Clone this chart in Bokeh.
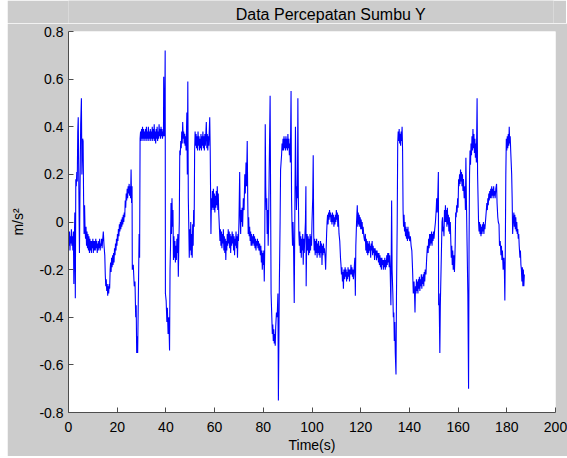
from bokeh.plotting import figure
from bokeh.embed import file_html
from bokeh.resources import INLINE
from bokeh.models import FixedTicker, Spacer
from bokeh.layouts import row, column
from bokeh.core.properties import value

# (time [s], acceleration [m/s^2])
trace = [
(0.0,-0.05),(0.2,-0.1),(0.4,-0.04),(0.6,-0.12),(0.8,-0.06),(1.0,-0.09),(1.2,-0.03),(1.4,-0.1),(1.6,-0.06),(1.8,-0.12),
(2.0,-0.04),(2.2,-0.26),(2.4,-0.08),(2.6,0.04),(2.8,-0.32),(3.0,0.18),(3.2,0.15),(3.4,0.21),(3.6,0.17),(3.8,0.38),
(4.0,0.44),(4.2,0.2),(4.5,-0.13),(4.7,0.1),(5.0,0.41),(5.3,0.52),(5.5,0.2),(5.8,0.35),(6.0,0.34),(6.2,0.1),
(6.4,-0.05),(6.6,0.07),(6.8,-0.03),(7.0,-0.07),(7.2,-0.02),(7.4,-0.1),(7.6,-0.04),(7.8,-0.11),(8.0,-0.05),(8.2,-0.12),
(8.4,-0.06),(8.6,-0.13),(8.8,-0.07),(9.0,-0.12),(9.2,-0.08),(9.4,-0.13),(9.6,-0.08),(9.8,-0.11),(10.0,-0.07),(10.2,-0.13),
(10.4,-0.08),(10.6,-0.12),(10.8,-0.08),(11.0,-0.12),(11.2,-0.07),(11.4,-0.11),(11.6,-0.08),(11.8,-0.13),(12.0,-0.09),(12.2,-0.12),
(12.4,-0.08),(12.6,-0.11),(12.8,-0.07),(13.0,-0.12),(13.2,-0.09),(13.4,-0.1),(13.6,-0.07),(13.8,-0.11),(14.0,-0.08),(14.3,-0.04),
(14.6,-0.1),(14.9,-0.14),(15.1,-0.22),(15.3,-0.27),(15.5,-0.24),(15.7,-0.29),(15.9,-0.26),(16.1,-0.31),(16.3,-0.27),(16.5,-0.3),
(16.7,-0.26),(16.9,-0.28),(17.1,-0.2),(17.3,-0.17),(17.5,-0.21),(17.7,-0.15),(17.9,-0.19),(18.1,-0.14),(18.3,-0.18),(18.5,-0.13),
(18.7,-0.17),(18.9,-0.11),(19.1,-0.14),(19.3,-0.09),(19.5,-0.12),(19.7,-0.07),(19.9,-0.1),(20.1,-0.05),(20.3,-0.08),(20.5,-0.03),
(20.7,-0.06),(20.9,-0.01),(21.1,-0.04),(21.3,0.0),(21.5,-0.03),(21.7,0.01),(21.9,-0.02),(22.1,0.02),(22.3,-0.01),(22.5,0.03),
(22.7,0.0),(22.9,0.04),(23.1,0.02),(23.3,0.09),(23.5,0.06),(23.7,0.12),(23.9,0.09),(24.1,0.14),(24.3,0.1),(24.5,0.15),
(24.7,0.12),(24.9,0.16),(25.1,0.11),(25.3,0.15),(25.5,0.1),(25.7,0.22),(25.9,0.08),(26.1,0.15),(26.2,-0.2),(26.6,-0.18),
(27.0,-0.27),(27.3,-0.25),(27.6,-0.4),(27.8,-0.35),(28.0,-0.55),(28.2,-0.48),(28.4,-0.55),(28.7,-0.3),(29.0,-0.05),(29.2,-0.15),
(29.4,0.35),(29.6,0.38),(29.8,0.34),(30.0,0.39),(30.2,0.35),(30.4,0.4),(30.6,0.34),(30.8,0.39),(31.0,0.35),(31.2,0.38),
(31.4,0.34),(31.6,0.39),(31.8,0.35),(32.0,0.4),(32.2,0.34),(32.4,0.38),(32.6,0.35),(32.8,0.4),(33.0,0.34),(33.2,0.38),
(33.4,0.35),(33.6,0.39),(33.8,0.34),(34.0,0.38),(34.2,0.35),(34.4,0.4),(34.6,0.34),(34.8,0.39),(35.0,0.35),(35.2,0.41),
(35.4,0.34),(35.6,0.38),(35.8,0.33),(36.0,0.39),(36.2,0.35),(36.4,0.4),(36.6,0.34),(36.8,0.38),(37.0,0.35),(37.2,0.41),
(37.4,0.36),(37.6,0.39),(37.8,0.35),(38.0,0.4),(38.2,0.36),(38.4,0.39),(38.6,0.35),(38.8,0.38),(39.0,0.36),(39.1,0.61),
(39.3,0.36),(39.5,0.4),(39.7,0.72),(39.8,-0.3),(40.1,-0.33),(40.4,-0.42),(40.6,-0.36),(40.9,-0.47),(41.2,-0.4),(41.5,-0.54),
(41.7,-0.2),(41.9,-0.1),(42.1,0.08),(42.3,-0.05),(42.5,0.1),(42.7,-0.02),(42.9,0.05),(43.1,-0.16),(43.3,-0.06),(43.5,-0.15),
(43.7,-0.08),(43.9,-0.17),(44.1,-0.1),(44.3,-0.16),(44.5,-0.07),(44.7,-0.13),(44.9,-0.05),(45.1,-0.23),(45.3,-0.1),(45.5,0.0),
(45.7,0.3),(45.9,0.28),(46.1,0.34),(46.3,0.31),(46.5,0.38),(46.7,0.33),(46.9,0.42),(47.1,0.35),(47.3,0.38),(47.5,0.33),
(47.7,0.37),(47.9,0.32),(48.1,0.36),(48.3,0.3),(48.6,0.46),(48.8,0.2),(49.0,0.59),(49.2,0.1),(49.4,-0.02),(49.6,-0.15),
(49.8,-0.03),(50.0,-0.12),(50.2,0.0),(50.4,-0.14),(50.6,-0.05),(50.8,-0.15),(51.0,-0.01),(51.2,-0.1),(51.4,0.05),(51.6,-0.02),
(51.8,0.3),(52.0,0.38),(52.2,0.32),(52.4,0.37),(52.6,0.31),(52.8,0.36),(53.0,0.3),(53.2,0.38),(53.4,0.32),(53.6,0.36),
(53.8,0.3),(54.0,0.35),(54.2,0.31),(54.4,0.37),(54.6,0.3),(54.8,0.36),(55.0,0.32),(55.2,0.38),(55.4,0.31),(55.6,0.36),
(55.8,0.3),(56.0,0.37),(56.2,0.32),(56.6,0.42),(56.8,0.31),(57.0,0.37),(57.2,0.3),(57.4,0.36),(57.6,0.32),(58.0,0.44),
(58.2,0.3),(58.5,-0.05),(58.7,0.1),(58.9,0.05),(59.1,0.13),(59.3,0.06),(59.5,0.14),(59.7,0.05),(59.9,0.12),(60.1,0.04),
(60.3,0.11),(60.5,0.06),(60.7,0.13),(60.9,0.07),(61.1,0.15),(61.3,0.05),(61.5,0.12),(61.7,0.04),(62.0,-0.03),(62.2,-0.08),
(62.4,-0.03),(62.6,-0.1),(62.8,-0.04),(63.0,-0.11),(63.2,-0.05),(63.4,-0.09),(63.6,-0.03),(63.8,-0.12),(64.0,-0.06),(64.2,-0.13),
(64.4,-0.07),(64.6,-0.16),(64.8,-0.08),(65.0,-0.12),(65.2,-0.05),(65.4,-0.1),(65.6,-0.03),(65.8,-0.09),(66.0,-0.04),(66.2,-0.11),
(66.4,-0.05),(66.6,-0.13),(66.8,-0.06),(67.0,-0.1),(67.2,-0.04),(67.4,-0.09),(67.6,-0.05),(67.8,-0.12),(68.0,-0.06),(68.2,-0.14),
(68.4,-0.07),(68.6,-0.1),(68.8,-0.04),(69.0,-0.11),(69.2,-0.06),(69.4,-0.15),(69.6,-0.05),(69.8,-0.08),(70.0,0.0),(70.3,0.21),
(70.5,0.02),(70.7,-0.05),(70.9,0.05),(71.1,0.0),(71.3,0.06),(71.5,-0.02),(71.8,0.1),(72.1,0.05),(72.4,0.2),(72.6,0.12),
(72.9,0.25),(73.1,0.15),(73.4,0.34),(73.6,0.1),(73.8,-0.05),(74.0,0.02),(74.2,-0.06),(74.4,-0.02),(74.6,-0.08),(74.8,-0.04),
(75.0,-0.1),(75.2,-0.05),(75.4,-0.1),(75.6,-0.06),(75.8,-0.09),(76.0,-0.05),(76.2,-0.1),(76.4,-0.06),(76.6,-0.11),(76.8,-0.07),
(77.0,-0.12),(77.2,-0.08),(77.4,-0.1),(77.6,-0.07),(77.8,-0.11),(78.0,-0.08),(78.2,-0.12),(78.5,-0.09),(78.8,-0.14),(79.0,-0.1),
(79.2,-0.17),(79.4,-0.12),(79.6,-0.2),(79.8,-0.13),(80.0,-0.18),(80.2,-0.12),(80.4,-0.25),(80.6,-0.1),(80.8,0.41),(81.0,0.15),
(81.2,0.05),(81.4,0.1),(81.6,-0.05),(81.8,0.05),(82.0,-0.1),(82.2,0.0),(82.4,0.2),(82.8,0.53),(83.0,0.1),(83.2,-0.3),
(83.5,-0.4),(83.7,-0.47),(83.9,-0.43),(84.1,-0.5),(84.3,-0.45),(84.5,-0.51),(84.7,-0.47),(84.9,-0.52),(85.1,-0.44),(85.4,-0.38),
(85.7,-0.4),(86.0,-0.3),(86.2,-0.75),(86.4,-0.5),(86.6,-0.25),(86.9,0.0),(87.1,0.22),(87.3,0.25),(87.5,0.28),(87.7,0.33),
(87.9,0.3),(88.1,0.35),(88.3,0.3),(88.5,0.36),(88.7,0.31),(88.9,0.35),(89.1,0.3),(89.3,0.36),(89.5,0.31),(89.7,0.35),
(89.9,0.3),(90.1,0.37),(90.3,0.31),(90.5,0.35),(90.7,0.28),(90.9,0.33),(91.1,0.25),(91.4,0.55),(91.6,0.1),(91.8,-0.02),
(92.0,-0.1),(92.2,0.0),(92.4,-0.08),(92.7,-0.34),(92.9,-0.05),(93.2,0.4),(93.4,0.2),(93.6,0.05),(93.8,0.15),(94.0,0.1),
(94.2,0.52),(94.4,0.1),(94.6,-0.05),(94.8,-0.1),(95.0,-0.04),(95.2,-0.13),(95.4,-0.06),(95.6,-0.15),(95.8,-0.07),(96.0,-0.12),
(96.2,-0.05),(96.4,-0.18),(96.6,-0.07),(96.8,-0.13),(97.0,-0.08),(97.3,0.0),(97.5,0.15),(97.6,-0.27),(97.8,-0.1),(98.0,-0.05),
(98.2,-0.12),(98.4,-0.06),(98.6,-0.14),(98.8,-0.07),(99.0,-0.13),(99.2,-0.05),(99.4,-0.12),(99.6,-0.06),(99.8,-0.1),(100.0,0.0),
(100.3,0.1),(100.5,0.28),(100.7,-0.05),(100.9,-0.12),(101.1,-0.07),(101.3,-0.14),(101.5,-0.08),(101.7,-0.13),(101.9,-0.07),(102.1,-0.15),
(102.3,-0.09),(102.5,-0.13),(102.7,-0.08),(102.9,-0.14),(103.1,-0.1),(103.3,-0.15),(103.5,-0.08),(103.7,-0.13),(103.9,-0.09),(104.1,-0.18),
(104.3,-0.1),(104.5,-0.14),(104.7,-0.09),(104.9,-0.13),(105.1,-0.11),(105.4,-0.15),(105.6,-0.2),(105.8,-0.12),(106.0,-0.05),(106.2,0.0),
(106.4,0.03),(106.6,-0.01),(106.8,0.04),(107.0,0.01),(107.2,0.05),(107.4,0.02),(107.6,0.04),(107.8,0.0),(108.0,0.03),(108.2,-0.01),
(108.4,0.04),(108.6,0.0),(108.8,0.03),(109.0,-0.02),(109.2,0.02),(109.4,-0.01),(109.6,0.03),(109.8,0.0),(110.0,0.05),(110.2,0.01),
(110.4,0.04),(110.6,-0.02),(110.8,0.03),(111.1,-0.05),(111.4,-0.08),(111.7,-0.15),(111.9,-0.18),(112.1,-0.22),(112.3,-0.19),(112.5,-0.25),
(112.7,-0.21),(112.9,-0.28),(113.1,-0.2),(113.4,-0.24),(113.6,-0.19),(113.8,-0.23),(114.0,-0.2),(114.2,-0.25),(114.4,-0.21),(114.6,-0.24),
(114.8,-0.19),(115.0,-0.23),(115.2,-0.2),(115.4,-0.25),(115.6,-0.2),(115.8,-0.22),(116.0,-0.18),(116.2,-0.22),(116.4,-0.19),(116.6,-0.23),
(116.8,-0.2),(117.0,-0.24),(117.3,-0.2),(117.6,-0.15),(117.8,-0.31),(118.0,-0.1),(118.3,0.0),(118.6,0.07),(118.8,-0.02),(119.0,0.04),
(119.2,-0.01),(119.4,0.03),(119.6,-0.02),(119.8,0.02),(120.0,-0.03),(120.2,0.01),(120.4,-0.03),(120.6,0.0),(120.8,-0.05),(121.0,-0.02),
(121.3,-0.06),(121.6,-0.08),(121.9,-0.05),(122.1,-0.12),(122.3,-0.07),(122.5,-0.13),(122.7,-0.08),(122.9,-0.14),(123.1,-0.09),(123.3,-0.13),
(123.5,-0.08),(123.7,-0.12),(123.9,-0.1),(124.1,-0.15),(124.3,-0.09),(124.5,-0.12),(124.7,-0.08),(124.9,-0.14),(125.1,-0.1),(125.3,-0.13),
(125.5,-0.11),(125.7,-0.16),(125.9,-0.11),(126.1,-0.14),(126.3,-0.12),(126.5,-0.16),(126.7,-0.12),(126.9,-0.15),(127.1,-0.13),(127.3,-0.17),
(127.5,-0.13),(127.7,-0.18),(127.9,-0.14),(128.1,-0.19),(128.3,-0.15),(128.5,-0.2),(128.7,-0.15),(128.9,-0.18),(129.1,-0.16),(129.3,-0.2),
(129.5,-0.16),(129.7,-0.19),(129.9,-0.15),(130.1,-0.2),(130.3,-0.16),(130.5,-0.19),(130.7,-0.14),(130.9,-0.18),(131.1,-0.13),(131.3,-0.17),
(131.5,-0.13),(131.7,-0.19),(131.9,-0.14),(132.1,-0.2),(132.4,-0.35),(132.7,0.09),(132.9,-0.2),(133.2,-0.3),(133.4,-0.4),(133.6,-0.38),
(133.8,-0.5),(134.0,-0.42),(134.2,-0.55),(134.5,-0.64),(134.7,-0.3),(135.0,0.0),(135.2,0.33),(135.4,0.38),(135.6,0.34),(135.8,0.39),
(136.0,0.33),(136.2,0.37),(136.4,0.32),(136.6,0.38),(136.8,0.34),(137.0,0.4),(137.2,0.3),(137.4,0.05),(137.6,-0.02),(137.8,0.03),
(138.0,-0.04),(138.2,0.0),(138.4,-0.06),(138.6,-0.02),(138.8,-0.07),(139.0,-0.03),(139.2,-0.08),(139.4,-0.02),(139.6,-0.07),(139.8,-0.04),
(140.1,-0.08),(140.4,-0.06),(140.7,-0.1),(141.0,-0.12),(141.3,-0.2),(141.6,-0.3),(141.9,-0.25),(142.1,-0.3),(142.3,-0.38),(142.5,-0.27),
(142.7,-0.3),(142.9,-0.24),(143.1,-0.29),(143.3,-0.25),(143.5,-0.3),(143.7,-0.24),(143.9,-0.28),(144.1,-0.23),(144.3,-0.29),(144.5,-0.24),
(144.7,-0.27),(144.9,-0.22),(145.1,-0.28),(145.3,-0.23),(145.5,-0.26),(145.7,-0.22),(145.9,-0.27),(146.1,-0.21),(146.3,-0.25),(146.5,-0.2),
(146.8,-0.22),(147.1,-0.15),(147.4,-0.1),(147.7,-0.13),(147.9,-0.07),(148.1,-0.11),(148.3,-0.05),(148.5,-0.1),(148.7,-0.05),(148.9,-0.09),
(149.1,-0.04),(149.3,-0.1),(149.5,-0.05),(149.7,-0.08),(149.9,-0.04),(150.1,-0.07),(150.4,-0.03),(150.7,0.0),(151.0,0.05),(151.2,0.1),
(151.4,0.04),(151.6,0.08),(151.9,0.21),(152.0,-0.35),(152.2,-0.3),(152.5,-0.55),(152.7,-0.35),(153.0,-0.2),(153.2,-0.1),(153.4,0.0),
(153.6,0.02),(153.8,-0.04),(154.0,-0.02),(154.2,-0.06),(154.4,0.05),(154.6,0.0),(154.8,0.07),(155.0,0.0),(155.2,0.05),(155.4,-0.02),
(155.6,0.06),(155.8,-0.01),(156.0,0.03),(156.2,-0.04),(156.4,0.02),(156.6,-0.05),(156.8,0.0),(157.0,-0.08),(157.2,-0.15),(157.4,-0.1),
(157.6,-0.18),(157.8,-0.12),(158.0,-0.2),(158.3,-0.14),(158.5,-0.21),(158.8,-0.1),(159.0,0.04),(159.2,0.02),(159.4,0.07),(159.6,0.04),
(159.8,0.1),(160.0,0.06),(160.2,0.18),(160.4,0.15),(160.6,0.2),(160.8,0.16),(161.0,0.22),(161.2,0.17),(161.4,0.21),(161.6,0.15),
(161.8,0.2),(162.0,0.13),(162.2,0.18),(162.5,0.1),(162.8,0.15),(163.0,0.05),(163.2,0.27),(163.4,0.1),(163.7,-0.1),(164.0,-0.3),
(164.3,-0.7),(164.5,-0.1),(164.7,0.2),(164.9,0.3),(165.1,0.24),(165.3,0.33),(165.5,0.28),(165.7,0.36),(165.9,0.3),(166.1,0.39),
(166.3,0.31),(166.5,0.37),(166.7,0.29),(166.9,0.35),(167.1,0.27),(167.3,0.33),(167.5,0.25),(167.8,0.52),(168.0,0.2),(168.2,0.1),
(168.4,0.0),(168.6,-0.04),(168.8,0.0),(169.0,-0.05),(169.2,-0.01),(169.4,-0.06),(169.6,-0.02),(169.8,-0.05),(170.0,-0.01),(170.2,-0.04),
(170.4,0.0),(170.6,-0.05),(170.8,-0.01),(171.0,-0.03),(171.3,0.01),(171.6,0.05),(171.8,0.08),(172.0,0.05),(172.2,0.1),(172.4,0.07),
(172.6,0.12),(172.8,0.09),(173.0,0.13),(173.2,0.1),(173.4,0.14),(173.6,0.1),(173.8,0.15),(174.0,0.11),(174.2,0.14),(174.4,0.1),
(174.6,0.15),(174.8,0.11),(175.0,0.13),(175.2,0.1),(175.5,0.14),(175.8,0.16),(176.0,0.08),(176.3,0.02),(176.5,0.0),(176.8,-0.01),
(177.0,-0.1),(177.3,-0.08),(177.6,-0.14),(177.8,-0.1),(178.0,-0.16),(178.2,-0.12),(178.5,-0.2),(178.8,-0.15),(179.0,-0.2),(179.2,-0.33),
(179.4,-0.1),(179.6,0.2),(179.8,0.35),(180.0,0.3),(180.2,0.36),(180.4,0.31),(180.6,0.37),(180.8,0.32),(181.0,0.4),(181.2,0.33),
(181.4,0.36),(181.6,0.3),(181.8,0.25),(182.0,0.2),(182.2,0.1),(182.4,-0.05),(182.6,0.0),(182.9,0.04),(183.1,-0.02),(183.3,0.03),
(183.5,-0.03),(183.7,0.02),(183.9,-0.04),(184.1,0.0),(184.3,-0.05),(184.5,-0.03),(184.7,-0.07),(184.9,-0.05),(185.1,-0.1),(185.4,-0.15),
(185.6,-0.12),(185.8,-0.18),(186.0,-0.2),(186.2,-0.25),(186.4,-0.19),(186.6,-0.27),(186.8,-0.2),(187.0,-0.27),(187.2,-0.22),
]
time_s = [t for t, _ in trace]
accel = [a for _, a in trace]

x_ticks = [0, 20, 40, 60, 80, 100, 120, 140, 160, 180, 200]
y_ticks = [-0.8, -0.6, -0.4, -0.2, 0, 0.2, 0.4, 0.6, 0.8]
y_tick_labels = ["-0.8", "-0.6", "-0.4", "-0.2", "0", "0.2", "0.4", "0.6", "0.8"]
title_text = "Data Percepatan Sumbu Y"

FONT = "Liberation Sans"
GRAY = "#cccccc"
AXC = "#4d4d4d"

# Title strip (gray band above the axes, holding the chart title as SVG text)
t = figure(
    width=559, height=23, x_range=(0, 1), y_range=(0, 1),
    output_backend="svg", toolbar_location=None,
    min_border_left=0, min_border_right=0, min_border_top=0, min_border_bottom=0,
    background_fill_color=GRAY, border_fill_color=GRAY,
)
t.axis.visible = False
t.grid.visible = False
t.outline_line_color = None
t.text(x=[0.541], y=[0.4], text=[title_text], text_align="center", text_baseline="middle",
       text_font=value(FONT), text_font_size="16px", text_color="black")

p = figure(
    width=559, height=433,
    frame_width=487, frame_height=381,
    x_range=(0, 200), y_range=(-0.8, 0.8),
    output_backend="svg", toolbar_location=None,
    min_border_left=59, min_border_right=13, min_border_top=8, min_border_bottom=44,
    background_fill_color="white", border_fill_color=GRAY,
)
p.outline_line_color = None
p.grid.visible = False

p.line(time_s, accel, line_color="#0000ff", line_width=1.1)

for ax in (p.xaxis[0], p.yaxis[0]):
    ax.axis_line_color = AXC
    ax.axis_line_width = 1
    ax.major_tick_line_color = AXC
    ax.major_tick_in = 5
    ax.major_tick_out = 0
    ax.minor_tick_line_color = None
    ax.major_label_text_font = FONT
    ax.major_label_text_font_size = "14px"
    ax.major_label_text_color = "black"
    ax.axis_label_text_font = FONT
    ax.axis_label_text_font_size = "14px"
    ax.axis_label_text_font_style = "normal"
    ax.axis_label_text_color = "black"

p.xaxis.ticker = FixedTicker(ticks=x_ticks)
p.yaxis.ticker = FixedTicker(ticks=y_ticks)
p.yaxis.major_label_overrides = {v: s for v, s in zip(y_ticks, y_tick_labels)}
p.xaxis.axis_label = "Time(s)"
p.yaxis.axis_label = "m/s²"
p.xaxis.major_label_standoff = 9
p.yaxis.major_label_standoff = 5
p.xaxis.axis_label_standoff = 2
p.yaxis.axis_label_standoff = 10

layout = row(Spacer(width=7), column(t, p, spacing=0), spacing=0)
open("out.html", "w").write(file_html(layout, INLINE))
